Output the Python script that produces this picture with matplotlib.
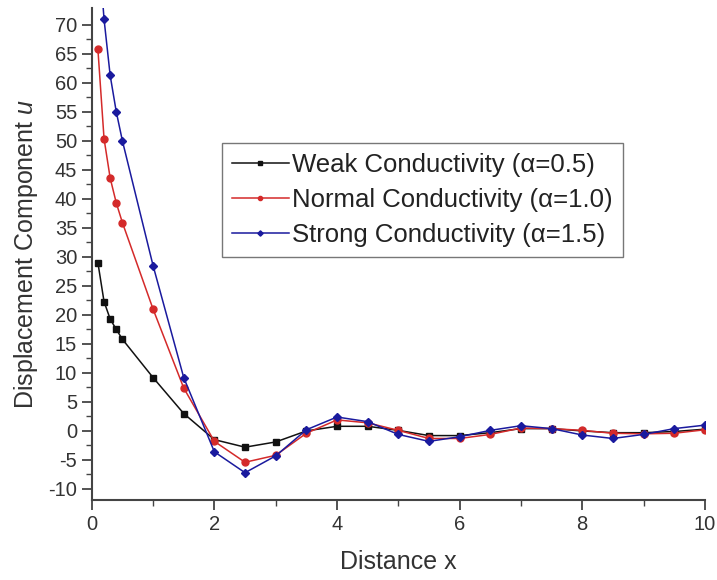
import numpy as np
import matplotlib
matplotlib.use('Agg')
import matplotlib.pyplot as plt

plt.rcParams['font.family'] = ['Liberation Sans', 'DejaVu Sans']
plt.rcParams['mathtext.fontset'] = 'custom'
plt.rcParams['mathtext.rm'] = 'Liberation Sans'
plt.rcParams['mathtext.it'] = 'Liberation Sans:italic'
plt.rcParams['axes.unicode_minus'] = False

# Valores
x_weak = [0.1, 0.2, 0.3, 0.4, 0.5, 1.0, 1.5, 2.0, 2.5, 3.0, 3.5, 4.0, 4.5, 5.0,
          5.5, 6.0, 6.5, 7.0, 7.5, 8.0, 8.5, 9.0, 9.5, 10.0]
u_weak = [29.0, 22.3, 19.3, 17.5, 15.8, 9.2, 3.0, -1.5, -2.8, -1.9, 0.0, 0.8, 0.8, 0.1,
          -0.8, -0.8, -0.3, 0.4, 0.4, 0.0, -0.3, -0.3, -0.1, 0.3]

x_norm = x_weak
u_norm = [65.8, 50.4, 43.6, 39.3, 35.9, 21.0, 7.4, -1.8, -5.4, -4.2, -0.4, 1.9, 1.4, 0.1,
          -1.3, -1.3, -0.6, 0.5, 0.4, 0.1, -0.4, -0.5, -0.4, 0.2]

x_strong = x_weak
u_strong = [85.0, 71.0, 61.3, 55.0, 50.0, 28.5, 9.2, -3.6, -7.2, -4.3, 0.2, 2.4, 1.6, -0.6,
            -1.8, -1.0, 0.1, 0.9, 0.4, -0.7, -1.3, -0.6, 0.4, 1.0]

fig = plt.figure(figsize=(7.17, 5.8), dpi=100)
ax = fig.add_axes([0.128, 0.138, 0.855, 0.848])

ax.plot(x_weak, u_weak, '-s', color='#111111', lw=1.1, ms=4.5,
        label='Weak Conductivity (α=0.5)')
ax.plot(x_norm, u_norm, '-o', color='#d42a2a', lw=1.1, ms=5,
        label='Normal Conductivity (α=1.0)')
ax.plot(x_strong, u_strong, '-D', color='#1a1a9e', lw=1.1, ms=4.5,
        label='Strong Conductivity (α=1.5)')

ax.set_xlim(0, 10)
ax.set_ylim(-11.9, 72.9)
ax.set_xticks(np.arange(0, 11, 2))
ax.set_xticks(np.arange(0, 11, 1), minor=True)
ax.set_yticks(np.arange(-10, 71, 5))
ax.set_yticks(np.arange(-10, 72.5, 2.5), minor=True)
ax.tick_params(axis='both', which='major', direction='out', length=7, width=1.3,
               labelsize=14.5, colors='#444444', labelcolor='#333333')
ax.tick_params(axis='both', which='minor', direction='out', length=4, width=1.0,
               colors='#444444')

for s in ['top', 'right']:
    ax.spines[s].set_visible(False)
for s in ['left', 'bottom']:
    ax.spines[s].set_linewidth(1.5)
    ax.spines[s].set_color('#444444')

ax.set_xlabel('Distance x', fontsize=18, color='#333333', labelpad=12)
ax.set_ylabel(r'Displacement Component $\it{u}$', fontsize=18, color='#333333',
              labelpad=6)

leg = ax.legend(loc='upper left', bbox_to_anchor=(0.212, 0.726), fontsize=18.5,
                frameon=True, fancybox=False, edgecolor='#555555',
                handlelength=2.2, handletextpad=0.15, borderpad=0.4,
                labelspacing=0.42, borderaxespad=0, markerscale=0.6)
leg.get_frame().set_linewidth(1.0)
for t in leg.get_texts():
    t.set_color('#222222')

fig.savefig('out.png', dpi=100)
